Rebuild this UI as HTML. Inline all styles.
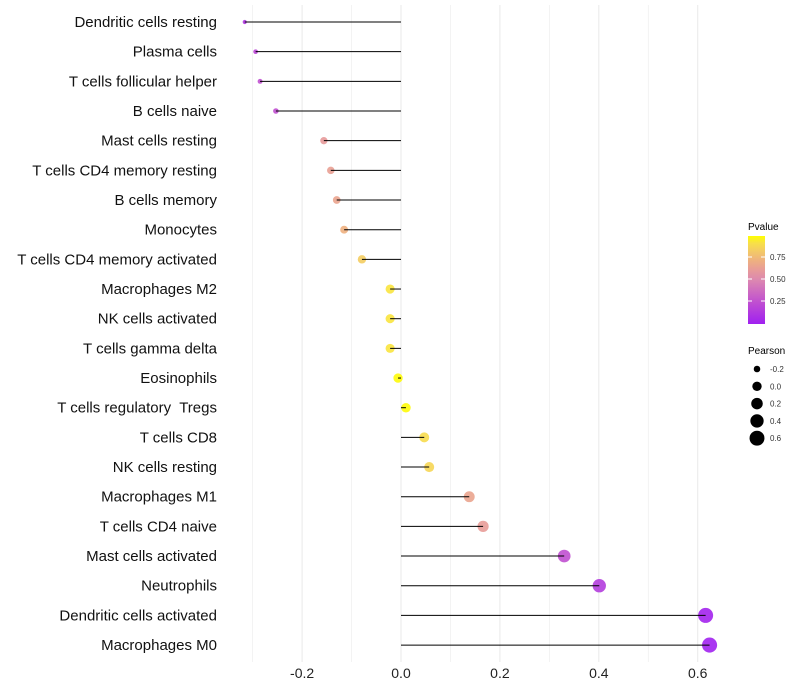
<!DOCTYPE html>
<html><head><meta charset="utf-8"><style>
body{margin:0;background:#fff;}
svg{display:block;font-family:"Liberation Sans",sans-serif;}
</style></head><body>
<svg id="chart" width="800" height="700">
<defs><linearGradient id="pg" x1="0" y1="1" x2="0" y2="0">
<stop offset="0" stop-color="#a020f0"/><stop offset="0.25" stop-color="#c050d0"/><stop offset="0.5" stop-color="#dc88b0"/><stop offset="0.62" stop-color="#e89c98"/><stop offset="0.72" stop-color="#eeb080"/><stop offset="0.82" stop-color="#f3c868"/><stop offset="0.92" stop-color="#f8e048"/><stop offset="1" stop-color="#ffff00"/>
</linearGradient></defs>
<g id="grid"></g><g id="marks"></g><g id="ylabels"></g><g id="xlabels"></g>
<g>
<text x="748" y="230" font-size="10" fill="#000">Pvalue</text>
<rect x="748" y="236" width="17" height="88" fill="url(#pg)"/>
<line x1="748" y1="257" x2="752" y2="257" stroke="#fff"/><line x1="761" y1="257" x2="765" y2="257" stroke="#fff"/>
<line x1="748" y1="279" x2="752" y2="279" stroke="#fff"/><line x1="761" y1="279" x2="765" y2="279" stroke="#fff"/>
<line x1="748" y1="301" x2="752" y2="301" stroke="#fff"/><line x1="761" y1="301" x2="765" y2="301" stroke="#fff"/>
<text x="770" y="260" font-size="8" fill="#333">0.75</text>
<text x="770" y="282" font-size="8" fill="#333">0.50</text>
<text x="770" y="304" font-size="8" fill="#333">0.25</text>
</g>
<g id="sizeleg">
<text x="748" y="354" font-size="10" fill="#000">Pearson</text>
</g>
</svg>
<script>
const categories=["Dendritic cells resting","Plasma cells","T cells follicular helper","B cells naive","Mast cells resting","T cells CD4 memory resting","B cells memory","Monocytes","T cells CD4 memory activated","Macrophages M2","NK cells activated","T cells gamma delta","Eosinophils","T cells regulatory  Tregs","T cells CD8","NK cells resting","Macrophages M1","T cells CD4 naive","Mast cells activated","Neutrophils","Dendritic cells activated","Macrophages M0"];
const pearson=[-0.316,-0.294,-0.285,-0.253,-0.156,-0.142,-0.130,-0.115,-0.079,-0.022,-0.022,-0.022,-0.006,0.010,0.047,0.057,0.138,0.166,0.330,0.401,0.616,0.624];
const pvalues=[0.12,0.2,0.25,0.25,0.61,0.64,0.66,0.72,0.84,0.93,0.93,0.93,0.99,0.99,0.9,0.88,0.66,0.62,0.25,0.15,0.02,0.01];
const xTicks=[-0.2,0.0,0.2,0.4,0.6];
const sizeLegend=[-0.2,0.0,0.2,0.4,0.6];
const NS="http://www.w3.org/2000/svg";
const x=v=>401+v*494.5;
const y=i=>22+i*29.67;
const r=v=>Math.sqrt(Math.max(3,22+56*v));
function col(p){
  const st=[[0,[160,32,240]],[0.25,[192,80,208]],[0.5,[220,136,176]],[0.62,[232,156,152]],[0.72,[238,176,128]],[0.82,[243,200,104]],[0.92,[248,224,72]],[1,[255,255,0]]];
  for(let k=1;k<st.length;k++){if(p<=st[k][0]){const a=st[k-1],b=st[k],t=(p-a[0])/(b[0]-a[0]);
  return "rgb("+a[1].map((c,j)=>Math.round(c+(b[1][j]-c)*t)).join(",")+")";}}
  return "rgb(255,255,0)";
}
function mk(tag,attrs,parent){const e=document.createElementNS(NS,tag);for(const k in attrs)e.setAttribute(k,attrs[k]);parent.appendChild(e);return e;}
const grid=document.getElementById("grid"),marks=document.getElementById("marks"),yl=document.getElementById("ylabels"),xl=document.getElementById("xlabels");
for(let k=-3;k<=6;k++){
  const v=k/10;
  const g=mk("line",{x1:x(v),x2:x(v),y1:5,y2:662,stroke:"#ebebeb","stroke-width":k%2===0?1.1:0.6},grid);
  
  
}
xTicks.forEach(v=>{
  const t=mk("text",{x:x(v),y:678,"font-size":14,"text-anchor":"middle",fill:"#222"},xl);
  t.textContent=v.toFixed(1);
  
  
});
categories.forEach((c,i)=>{
  const t=mk("text",{x:217,y:y(i)+5,"font-size":15,"text-anchor":"end",fill:"#111","xml:space":"preserve"},yl);
  t.style.whiteSpace="pre";
  t.textContent=c;
  
  
  const p=mk("circle",{cx:x(pearson[i]),cy:y(i),r:r(pearson[i]),fill:col(pvalues[i]),"fill-opacity":0.9},marks);
  
  
  const l=mk("line",{x1:x(0),x2:x(pearson[i]),y1:y(i),y2:y(i),stroke:"#000","stroke-width":1},marks);
  
  
});
const sl=document.getElementById("sizeleg");
sizeLegend.forEach((v,k)=>{
  const cy=369+k*17.3;
  const c=mk("circle",{cx:757,cy:cy,r:r(v),fill:"#000"},sl);
  
  
  const t=mk("text",{x:770,y:cy+3,"font-size":8,fill:"#333"},sl);
  t.textContent=v.toFixed(1);
  
  
});
</script>
</body></html>
